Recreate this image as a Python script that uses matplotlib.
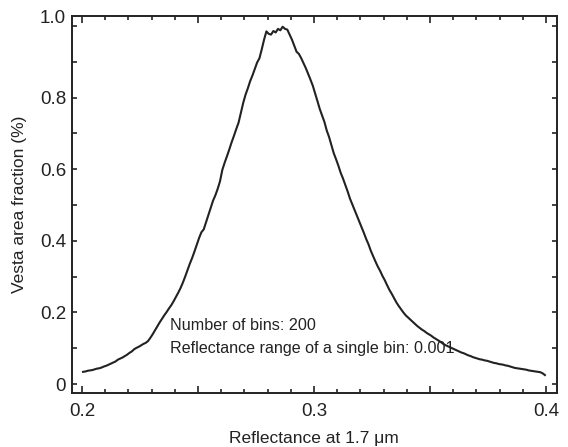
import numpy as np
import matplotlib
matplotlib.use("Agg")
import matplotlib.pyplot as plt
from matplotlib.transforms import ScaledTranslation

plt.rcParams['font.family'] = ['Liberation Sans', 'DejaVu Sans']

# 200 bins, 0.001 wide, from 0.2 to 0.4
bin_start = 0.2
bin_width = 0.001
area_fraction = [
    0.034, 0.035, 0.037, 0.038, 0.039, 0.041, 0.043, 0.044, 0.046, 0.049,
    0.051, 0.054, 0.057, 0.060, 0.063, 0.068, 0.071, 0.074, 0.078, 0.082,
    0.087, 0.091, 0.097, 0.101, 0.104, 0.108, 0.112, 0.115, 0.120, 0.129,
    0.139, 0.150, 0.161, 0.172, 0.182, 0.192, 0.201, 0.211, 0.220, 0.231,
    0.243, 0.255, 0.268, 0.283, 0.300, 0.318, 0.336, 0.352, 0.370, 0.389,
    0.408, 0.424, 0.432, 0.452, 0.472, 0.493, 0.512, 0.527, 0.545, 0.566,
    0.598, 0.618, 0.636, 0.655, 0.675, 0.693, 0.712, 0.730, 0.758, 0.785,
    0.808, 0.826, 0.846, 0.862, 0.880, 0.898, 0.910, 0.935, 0.962, 0.985,
    0.978, 0.976, 0.986, 0.982, 0.992, 0.988, 0.998, 0.992, 0.990, 0.976,
    0.962, 0.945, 0.928, 0.922, 0.910, 0.896, 0.882, 0.866, 0.850, 0.833,
    0.812, 0.790, 0.768, 0.750, 0.732, 0.708, 0.690, 0.668, 0.645, 0.628,
    0.610, 0.590, 0.574, 0.556, 0.538, 0.518, 0.502, 0.486, 0.470, 0.454,
    0.438, 0.422, 0.405, 0.390, 0.372, 0.357, 0.342, 0.328, 0.316, 0.302,
    0.290, 0.276, 0.263, 0.252, 0.240, 0.228, 0.218, 0.209, 0.200, 0.192,
    0.186, 0.180, 0.174, 0.168, 0.162, 0.157, 0.152, 0.148, 0.143, 0.139,
    0.135, 0.130, 0.126, 0.122, 0.118, 0.113, 0.109, 0.106, 0.103, 0.100,
    0.097, 0.094, 0.091, 0.088, 0.086, 0.083, 0.080, 0.078, 0.075, 0.073,
    0.071, 0.069, 0.068, 0.066, 0.065, 0.063, 0.061, 0.059, 0.058, 0.056,
    0.055, 0.054, 0.052, 0.051, 0.049, 0.047, 0.045, 0.044, 0.043, 0.042,
    0.041, 0.040, 0.038, 0.037, 0.036, 0.035, 0.034, 0.033, 0.030, 0.025,
]
reflectance = bin_start + bin_width * (np.arange(len(area_fraction)) + 0.5)

x_ticks = [0.2, 0.25, 0.3, 0.35, 0.4]
x_tick_labels = ["0.2", "", "0.3", "", "0.4"]
y_ticks = [0, 0.2, 0.4, 0.6, 0.8, 1.0]
y_tick_labels = ["0", "0.2", "0.4", "0.6", "0.8", "1.0"]
note_lines = ["Number of bins: 200", "Reflectance range of a single bin: 0.001"]

fig = plt.figure(figsize=(5.68, 4.47), dpi=100)
ax = fig.add_axes([0.1262, 0.1208, 0.8544, 0.8441])

ax.plot(reflectance, area_fraction, color="#222222", lw=1.5)

ax.set_xlim(0.1956, 0.4047)
ax.set_ylim(-0.0251, 1.0288)

ax.set_xticks(x_ticks, x_tick_labels)
ax.set_xticks(np.arange(0.2, 0.4001, 0.01), minor=True)
ax.set_yticks(y_ticks, y_tick_labels)
ax.set_yticks(np.arange(0.1, 1.0, 0.2), minor=True)

ax.tick_params(which="both", direction="in", top=True, right=True,
               width=1.2, color="#222222", labelsize=13.5, labelcolor="#222222")
ax.tick_params(axis="x", which="major", length=5, pad=7)
ax.tick_params(axis="x", which="minor", length=3)
ax.tick_params(axis="y", which="both", length=3.6, pad=4)

for s in ax.spines.values():
    s.set_linewidth(1.4)
    s.set_color("#222222")

# the top label sits a bit higher than its tick in the original
top_label = ax.yaxis.get_major_ticks()[-1].label1
top_label.set_transform(top_label.get_transform()
                        + ScaledTranslation(0, 7 / 72, fig.dpi_scale_trans))

ax.set_xlabel("Reflectance at 1.7 \u03bcm", fontsize=12.5, color="#222222", labelpad=8)
ax.set_ylabel("Vesta area fraction (%)", fontsize=12.5, color="#222222", labelpad=9)

for yy, line in zip([0.18, 0.117], note_lines):
    ax.text(0.2026, yy, line, transform=ax.transAxes, fontsize=11.6,
            color="#222222", va="center", ha="left")

fig.savefig("out.png", dpi=100)
